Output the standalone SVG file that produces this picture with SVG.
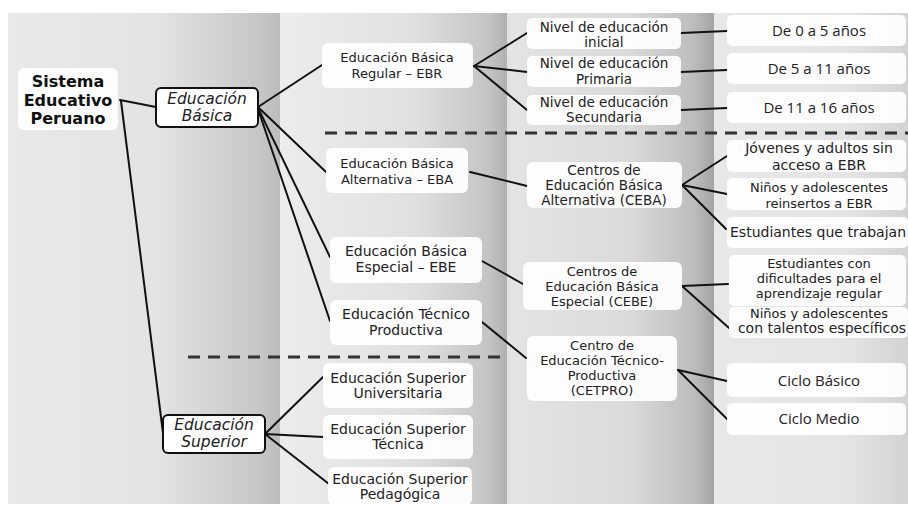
<svg xmlns="http://www.w3.org/2000/svg" width="908" height="505" viewBox="0 0 908 505">
<defs>
<linearGradient id="c1" x1="0" y1="0" x2="1" y2="0"><stop offset="0" stop-color="#e9e9e9"/><stop offset="0.55" stop-color="#e3e3e3"/><stop offset="0.93" stop-color="#c6c6c6"/><stop offset="1" stop-color="#bcbcbc"/></linearGradient>
<linearGradient id="c2" x1="0" y1="0" x2="1" y2="0"><stop offset="0" stop-color="#ececec"/><stop offset="0.6" stop-color="#e0e0e0"/><stop offset="0.92" stop-color="#c4c4c4"/><stop offset="1" stop-color="#b0b0b0"/></linearGradient>
<linearGradient id="c3" x1="0" y1="0" x2="1" y2="0"><stop offset="0" stop-color="#e4e4e4"/><stop offset="0.6" stop-color="#dadada"/><stop offset="0.9" stop-color="#bdbdbd"/><stop offset="1" stop-color="#a4a4a4"/></linearGradient>
<linearGradient id="c4" x1="0" y1="0" x2="1" y2="0"><stop offset="0" stop-color="#e8e8e8"/><stop offset="0.7" stop-color="#e4e4e4"/><stop offset="1" stop-color="#d2d2d2"/></linearGradient>
<style>
.bx{fill:#ffffff;fill-opacity:0.93}
.it{fill:#ffffff;stroke:#111;stroke-width:2}
text{font-family:"DejaVu Sans",Verdana,sans-serif;fill:#222;text-anchor:middle}
.t13{font-size:13px}
.t135{font-size:13.5px}
.t14{font-size:14px}
.os{font-family:"Open Sans","Noto Sans",sans-serif;font-size:15px}
.bold{font-size:16px;font-weight:bold;fill:#111}
.ital{font-size:15.5px;font-style:italic}
.ln{stroke:#111;stroke-width:2;fill:none;stroke-linecap:round}
.dash{stroke:#333;stroke-width:3;stroke-dasharray:12 8;fill:none}
</style>
</defs>
<rect width="908" height="505" fill="#ffffff"/>
<g id="background">
<rect x="8" y="13" width="272" height="491" fill="url(#c1)"/>
<rect x="280" y="13" width="227" height="491" fill="url(#c2)"/>
<rect x="507" y="13" width="207" height="491" fill="url(#c3)"/>
<rect x="714" y="13" width="194" height="491" fill="url(#c4)"/>
</g>
<g id="connectors">
<line class="ln" x1="120" y1="100" x2="156" y2="107"/>
<line class="ln" x1="121" y1="101" x2="163" y2="433"/>
<line class="ln" x1="258" y1="107" x2="322" y2="65"/>
<line class="ln" x1="259" y1="108" x2="326" y2="172"/>
<line class="ln" x1="259" y1="110" x2="330" y2="257"/>
<line class="ln" x1="259" y1="112" x2="330" y2="321"/>
<line class="ln" x1="474" y1="66" x2="527" y2="33"/>
<line class="ln" x1="474" y1="66" x2="527" y2="72"/>
<line class="ln" x1="474" y1="66" x2="527" y2="110"/>
<line class="ln" x1="681" y1="33" x2="727" y2="31"/>
<line class="ln" x1="681" y1="72" x2="727" y2="70"/>
<line class="ln" x1="681" y1="110" x2="727" y2="108"/>
<line class="ln" x1="470" y1="172" x2="527" y2="186"/>
<line class="ln" x1="682" y1="185" x2="727" y2="156"/>
<line class="ln" x1="682" y1="185" x2="727" y2="194"/>
<line class="ln" x1="682" y1="185" x2="726" y2="229"/>
<line class="ln" x1="482" y1="261" x2="523" y2="284"/>
<line class="ln" x1="682" y1="286" x2="728" y2="284"/>
<line class="ln" x1="682" y1="286" x2="729" y2="328"/>
<line class="ln" x1="482" y1="322" x2="526" y2="358"/>
<line class="ln" x1="678" y1="370" x2="727" y2="381"/>
<line class="ln" x1="678" y1="370" x2="727" y2="419"/>
<line class="ln" x1="265" y1="434" x2="323" y2="377"/>
<line class="ln" x1="265" y1="434" x2="323" y2="437"/>
<line class="ln" x1="265" y1="434" x2="329" y2="484"/>
<line class="dash" x1="325" y1="133" x2="908" y2="133"/>
<line class="dash" x1="188" y1="357" x2="503" y2="357"/>
</g>
<g id="n-sistema"><rect class="bx" x="18" y="68" width="100" height="62" rx="6"/><text class="bold" x="68" y="87">Sistema</text><text class="bold" x="68" y="106">Educativo</text><text class="bold" x="68" y="124">Peruano</text></g>
<g id="n-basica"><rect class="it" x="156" y="88" width="102" height="39" rx="5"/><text class="ital" x="207" y="104">Educación</text><text class="ital" x="207" y="121">Básica</text></g>
<g id="n-superior"><rect class="it" x="163" y="415" width="102" height="38" rx="5"/><text class="ital" x="214" y="430">Educación</text><text class="ital" x="214" y="447">Superior</text></g>
<g id="n-ebr"><rect class="bx" x="322" y="43" width="151" height="45" rx="6"/><text class="t13" x="397" y="62">Educación Básica</text><text class="t13" x="397" y="78">Regular – EBR</text></g>
<g id="n-eba"><rect class="bx" x="326" y="148" width="142" height="45" rx="6"/><text class="t13" x="397" y="168">Educación Básica</text><text class="t13" x="397" y="184">Alternativa – EBA</text></g>
<g id="n-ebe"><rect class="bx" x="330" y="237" width="152" height="46" rx="6"/><text class="t14" x="406" y="256">Educación Básica</text><text class="t14" x="406" y="272">Especial – EBE</text></g>
<g id="n-etp"><rect class="bx" x="330" y="300" width="152" height="45" rx="6"/><text class="t14" x="406" y="319">Educación Técnico</text><text class="t14" x="406" y="335">Productiva</text></g>
<g id="n-esu"><rect class="bx" x="323" y="363" width="150" height="45" rx="6"/><text class="t14" x="398" y="383">Educación Superior</text><text class="t14" x="398" y="398">Universitaria</text></g>
<g id="n-est"><rect class="bx" x="323" y="415" width="150" height="44" rx="6"/><text class="t14" x="398" y="434">Educación Superior</text><text class="t14" x="398" y="449">Técnica</text></g>
<g id="n-esp"><rect class="bx" x="328" y="467" width="144" height="38" rx="6"/><text class="t14" x="400" y="484">Educación Superior</text><text class="t14" x="400" y="499">Pedagógica</text></g>
<g id="n-inicial"><rect class="bx" x="527" y="18" width="154" height="31" rx="5"/><text class="t135" x="604" y="32">Nivel de educación</text><text class="t135" x="604" y="47">inicial</text></g>
<g id="n-primaria"><rect class="bx" x="527" y="56" width="154" height="31" rx="5"/><text class="t135" x="604" y="68">Nivel de educación</text><text class="t135" x="604" y="84">Primaria</text></g>
<g id="n-secundaria"><rect class="bx" x="527" y="95" width="154" height="30" rx="5"/><text class="t135" x="604" y="107">Nivel de educación</text><text class="t135" x="604" y="122">Secundaria</text></g>
<g id="n-ceba"><rect class="bx" x="527" y="162" width="155" height="46" rx="6"/><text class="t135" x="604" y="175">Centros de</text><text class="t135" x="604" y="190">Educación Básica</text><text class="t135" x="604" y="205">Alternativa (CEBA)</text></g>
<g id="n-cebe"><rect class="bx" x="523" y="262" width="159" height="48" rx="6"/><text class="t13" x="602" y="276">Centros de</text><text class="t13" x="602" y="291">Educación Básica</text><text class="t13" x="602" y="306">Especial (CEBE)</text></g>
<g id="n-cetpro"><rect class="bx" x="527" y="336" width="150" height="65" rx="6"/><text class="t13" x="602" y="350">Centro de</text><text class="t13" x="602" y="365">Educación Técnico-</text><text class="t13" x="602" y="380">Productiva</text><text class="t13" x="602" y="395">(CETPRO)</text></g>
<g id="n-0a5"><rect class="bx" x="727" y="15" width="179" height="31" rx="5"/><text class="os" x="819" y="36">De 0 a 5 años</text></g>
<g id="n-5a11"><rect class="bx" x="727" y="53" width="179" height="31" rx="5"/><text class="os" x="819" y="74">De 5 a 11 años</text></g>
<g id="n-11a16"><rect class="bx" x="727" y="92" width="179" height="31" rx="5"/><text class="os" x="819" y="113">De 11 a 16 años</text></g>
<g id="n-jovenes"><rect class="bx" x="727" y="140" width="179" height="32" rx="5"/><text class="t14" x="819" y="153">Jóvenes y adultos sin</text><text class="t14" x="819" y="170">acceso a EBR</text></g>
<g id="n-reinsertos"><rect class="bx" x="727" y="178" width="179" height="32" rx="5"/><text class="t13" x="819" y="192">Niños y adolescentes</text><text class="t13" x="819" y="208">reinsertos a EBR</text></g>
<g id="n-trabajan"><rect class="bx" x="727" y="217" width="181" height="31" rx="5"/><text class="t14" x="730" y="237" style="text-anchor:start">Estudiantes que trabajan</text></g>
<g id="n-dificultades"><rect class="bx" x="729" y="255" width="177" height="51" rx="5"/><text class="t13" x="819" y="268">Estudiantes con</text><text class="t13" x="819" y="283">dificultades para el</text><text class="t13" x="819" y="298">aprendizaje regular</text></g>
<g id="n-talentos"><rect class="bx" x="729" y="307" width="179" height="31" rx="5"/><text class="t13" x="819" y="318">Niños y adolescentes</text><text class="t14" x="822" y="333">con talentos específicos</text></g>
<g id="n-cbasico"><rect class="bx" x="727" y="363" width="179" height="34" rx="5"/><text class="os" x="819" y="386">Ciclo Básico</text></g>
<g id="n-cmedio"><rect class="bx" x="727" y="403" width="179" height="32" rx="5"/><text class="os" x="819" y="424">Ciclo Medio</text></g>
</svg>
